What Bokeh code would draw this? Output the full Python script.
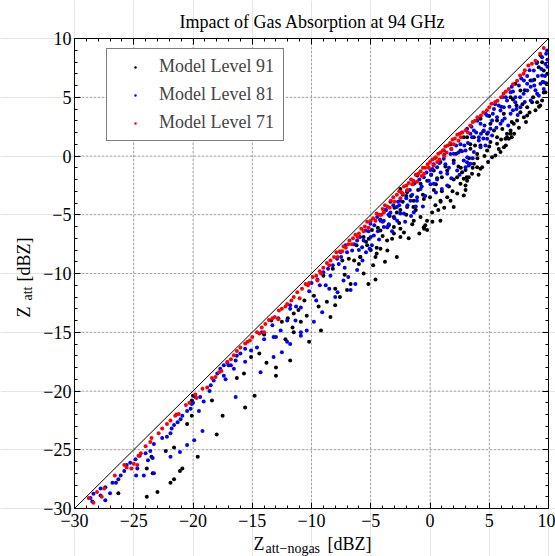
from bokeh.plotting import figure
from bokeh.models import Range1d, FixedTicker, LinearAxis, Label
from bokeh.embed import file_html
from bokeh.resources import INLINE

# ---------------- data ----------------
x_lim = [-30, 10]
y_lim = [-30, 10]
major_ticks = [-30, -25, -20, -15, -10, -5, 0, 5, 10]
minor_ticks = list(range(-30, 11))
tick_labels = {-30: "\u221230", -25: "\u221225", -20: "\u221220", -15: "\u221215",
               -10: "\u221210", -5: "\u22125", 0: "0", 5: "5", 10: "10"}
series_names = ["Model Level 91", "Model Level 81", "Model Level 71"]
series_colors = ["#000000", "#0000ff", "#ff0000"]
title_text = "Impact of Gas Absorption at 94 GHz"

# (Z_att-nogas, Z_att) pairs
level91 = [
    (-23.0, -28.6), (-23.9, -29.0), (-26.3, -28.7), (-21.9, -27.8), (-21.6, -27.5),
    (-21.1, -26.8), (-20.9, -26.6), (-19.6, -25.6), (-18.0, -23.7), (-17.5, -22.1),
    (-15.6, -21.4), (-14.8, -20.4), (-23.4, -27.0), (-23.5, -25.6), (-22.3, -25.1),
    (-21.6, -24.8), (-20.5, -22.8), (-13.0, -18.0), (-11.8, -17.4), (-13.0, -18.7),
    (-10.2, -15.8), (-11.5, -15.0), (-15.7, -18.5), (-16.3, -18.9), (-15.1, -17.1),
    (-14.4, -16.8), (-13.4, -14.0), (-11.5, -13.4), (-11.1, -13.1), (-20.1, -22.1),
    (-20.0, -20.4), (-20.1, -20.8), (-18.4, -20.8), (-23.9, -26.6),
    (-8.4, -13.7), (-9.2, -14.85), (-11.6, -14.6), (-10.9, -14.1), (-8.7, -12.4),
    (-8.0, -12.7), (-8.0, -11.3), (-7.0, -11.4), (-6.7, -10.9), (-5.6, -10.0),
    (-5.2, -10.9), (-4.6, -10.5), (-3.8, -9.0), (-2.8, -8.6), (-3.6, -8.04),
    (-4.5, -7.8), (-5.0, -8.0), (-3.2, -7.05), (-2.5, -6.9), (-2.2, -6.5),
    (-1.5, -5.8), (-0.5, -6.2), (-0.4, -5.9), (-0.8, -5.2), (-0.25, -5.5),
    (0.18, -4.8), (0.9, -3.9), (0.46, -4.2), (-1.4, -4.35), (-2.8, -4.8),
    (-3.05, -6.05), (-4.5, -8.3), (-5.9, -8.6),
    (3.1, -1.8), (2.57, -2.37), (1.45, -3.5), (0.88, -3.8), (1.73, -3.8),
    (0.32, -2.9), (-0.24, -2.1), (-0.8, -2.37), (-1.37, -3.8), (-1.93, -4.35),
    (-2.5, -4.6), (-3.05, -5.2), (-3.6, -6.06), (-3.05, -6.6), (-2.5, -6.2),
    (-1.37, -5.5), (-0.52, -6.06), (-0.24, -6.3), (0.88, -5.5), (2.0, -4.35),
    (2.85, -3.36), (3.0, -2.9), (2.29, -1.8), (1.45, -1.23), (0.88, -0.5),
    (2.0, -0.38), (1.16, 0.47), (2.57, 0.47), (1.73, 1.0), (2.85, 1.6),
    (0.32, -1.23), (-1.09, -1.66), (-2.5, -2.8), (-3.34, -3.9), (-3.9, -4.6),
    (-1.93, -3.08), (-1.37, -2.37), (-0.52, -3.65),
    (-5.17, -7.05), (-4.6, -8.6), (-4.18, -7.9), (-3.62, -7.2), (-5.87, -8.6),
    (-6.85, -8.75), (-4.18, -6.34), (-3.48, -5.9),
    (3.0, -2.5), (3.13, -2.1), (2.85, -1.94), (3.27, -1.8), (3.7, -0.67),
    (4.26, -1.09), (4.4, -0.95), (3.98, -0.95), (3.55, -1.52), (2.71, -1.38),
    (5.24, -0.1), (5.52, 0.04), (6.23, 0.75), (5.95, 0.33), (4.82, 0.47),
    (4.26, 0.9), (6.8, 1.89), (6.5, 1.6), (6.65, 1.46), (5.66, 1.04),
    (3.98, 0.18), (3.41, 0.61),
    (9.32, 8.55), (9.46, 7.98), (9.18, 7.56), (9.6, 7.28), (8.62, 4.58),
    (9.04, 4.58), (9.46, 4.72), (8.2, 4.15), (7.63, 3.73), (7.92, 3.3),
    (7.35, 3.02), (7.07, 2.74), (6.8, 2.17), (6.5, 1.89), (6.9, 1.6),
    (6.37, 1.46), (8.2, 3.45), (9.74, 5.43), (6.23, 3.59), (5.66, 3.02),
    (5.1, 2.74), (4.26, 3.16), (4.82, 1.89), (5.4, 2.17), (5.66, 1.6),
    (3.7, 1.6), (3.13, 1.6), (7.2, 6.14), (7.63, 5.57), (6.8, 5.0),
    (9.04, 7.98), (8.48, 6.43),
    (-9.0, -10.2), (-8.2, -9.6), (-7.4, -8.9), (-6.2, -7.6), (-5.6, -6.9),
    (-4.9, -6.3), (-4.2, -5.4), (-2.0, -3.4), (-1.0, -2.9), (0.1, -1.6),
    (0.6, -1.9), (1.3, -0.9), (2.2, 0.2), (3.4, 1.0), (4.5, 2.1),
    (5.0, 3.4), (6.0, 4.2), (7.0, 4.8), (8.0, 5.6), (8.8, 6.5),
    (9.9, 7.0), (9.6, 5.4), (-14.0, -15.2), (-12.5, -14.1), (-12.0, -13.8),
    (-10.6, -12.3), (-9.8, -11.9),
    (-6.0, -9.2), (-5.4, -7.3), (-4.8, -9.3), (-4.0, -6.8), (-3.4, -5.1),
    (-2.6, -5.7), (-2.0, -5.0), (-1.8, -7.0), (-1.2, -4.6), (-0.9, -6.6),
    (-0.6, -3.3), (0.0, -3.5), (0.2, -5.6), (0.5, -2.4), (0.7, -4.6),
    (1.0, -1.8), (1.2, -4.4), (1.6, -2.6), (1.9, -3.0), (2.3, -3.2),
    (2.4, -0.9), (2.6, -1.0), (3.3, -0.2), (3.6, -1.0), (3.8, 0.9),
    (4.1, -1.6), (4.6, 0.0), (4.9, -0.5), (5.1, 1.2), (5.8, 0.6),
    (6.1, 2.3), (6.4, 0.9), (6.9, 2.9), (7.1, 1.9), (7.5, 2.4),
    (7.8, 4.4), (8.1, 2.9), (8.4, 3.7), (8.7, 5.0), (8.9, 3.9),
    (9.2, 4.2), (9.5, 6.3), (9.8, 6.2), (9.3, 4.3), (7.3, 4.3),
    (6.0, 1.4), (5.0, 0.8), (4.0, -0.2), (3.0, -1.2), (2.0, -2.0),
    (1.0, -3.0), (-1.6, -3.4), (-2.3, -3.9), (-3.0, -4.4), (-4.4, -6.1),
    (-5.3, -7.6), (-6.4, -8.9), (-7.2, -10.1), (-7.6, -12.0), (-9.4, -12.8),
    (-10.4, -13.6), (-12.2, -15.6), (-13.8, -17.6),
]

level81 = [
    (-28.65, -29.1), (-28.5, -29.4), (-28.4, -28.75), (-27.8, -28.3), (-27.4, -28.2),
    (-27.0, -28.7), (-27.4, -29.3), (-26.5, -27.8), (-26.3, -27.5), (-26.1, -27.2),
    (-25.8, -26.8), (-25.6, -26.3), (-25.3, -26.1), (-24.85, -25.8), (-24.7, -26.6),
    (-24.8, -27.2), (-24.15, -27.2), (-23.8, -25.9), (-24.0, -25.3), (-23.6, -25.1),
    (-23.3, -24.5), (-23.4, -25.7), (-21.9, -23.6), (-22.2, -23.9), (-21.8, -23.2),
    (-21.6, -22.9), (-21.3, -22.65), (-21.05, -22.4), (-20.9, -22.1), (-20.5, -21.7),
    (-20.2, -21.5), (-20.1, -21.1), (-19.8, -20.5), (-19.4, -20.5), (-19.1, -20.9),
    (-19.5, -21.7), (-19.2, -23.4), (-19.9, -24.2), (-20.5, -24.6), (-21.1, -25.2),
    (-21.9, -25.6), (-23.3, -27.0), (-18.5, -19.5), (-18.25, -19.1), (-17.95, -18.5),
    (-17.7, -18.1), (-17.4, -17.8), (-17.1, -17.6), (-17.0, -17.8), (-17.4, -18.7),
    (-17.25, -19.0), (-16.55, -18.1), (-16.4, -17.4), (-16.3, -17.0), (-16.0, -16.8),
    (-15.6, -17.5), (-16.4, -20.5), (-15.1, -16.55), (-14.6, -16.3), (-14.3, -18.4),
    (-14.0, -15.6), (-13.2, -15.4), (-13.3, -14.4), (-12.6, -14.85), (-12.5, -16.7),
    (-13.2, -17.1), (-11.8, -16.0), (-11.35, -14.0), (-10.9, -12.9), (-10.4, -14.85),
    (-10.9, -15.3), (-12.05, -14.0), (-11.8, -13.0), (-13.0, -15.4), (-12.06, -15.8),
    (-10.9, -15.0), (-9.1, -13.3), (-9.8, -14.1), (-8.0, -12.0), (-7.8, -11.6),
    (-6.7, -11.4), (-6.3, -10.9), (-6.15, -9.7), (-5.7, -8.9), (-5.0, -6.9),
    (-3.9, -6.05), (-2.77, -5.5), (-2.2, -4.9), (-1.9, -4.2), (-1.1, -3.8),
    (0.04, -2.4), (0.04, -1.2), (1.45, -1.5),
    (2.29, -1.23), (1.73, 0.18), (1.16, -0.24), (0.6, -0.95), (0.1, -1.6),
    (0.32, -2.37), (1.45, -2.5), (-0.8, -2.8), (-1.09, -3.5), (-1.65, -3.8),
    (-1.93, -2.94), (-2.5, -3.8), (-2.8, -4.35), (-3.34, -4.8), (-3.76, -4.64),
    (-3.9, -5.5), (-3.48, -5.8), (-2.5, -4.9), (-1.37, -4.78), (-0.52, -1.8),
    (2.85, -0.38), (2.57, 1.0), (3.0, -0.95), (-6.15, -7.2), (-6.57, -8.04),
    (-5.73, -7.76), (-5.45, -6.34), (-5.03, -5.77), (-4.46, -5.2), (-4.74, -6.77),
    (-4.18, -5.5), (-3.62, -6.06), (-7.13, -7.6), (-7.56, -8.2), (-7.84, -8.75),
    (-10.0, -10.8), (-9.5, -10.5), (-9.0, -9.9), (-8.6, -9.6), (-8.2, -9.3),
    (-7.5, -8.6), (-7.0, -8.2), (-6.4, -7.5), (-5.9, -6.9), (-5.2, -6.4),
    (-4.7, -5.9), (-4.2, -5.0), (-3.7, -4.6), (-3.1, -4.2), (-2.7, -3.9),
    (-2.3, -3.3), (-1.7, -2.9), (-1.3, -2.3), (-0.9, -2.0), (-0.3, -1.4),
    (0.3, -0.7), (0.8, -0.6), (1.2, 0.1), (1.8, 0.6), (2.2, 0.9),
    (-8.8, -11.0), (-9.6, -12.3), (-11.3, -12.8), (-10.2, -11.5), (-8.4, -10.2),
    (-7.2, -9.5), (-6.9, -10.3), (-5.4, -8.2), (-4.9, -7.6), (-4.3, -7.1),
    (-3.2, -6.4), (-2.1, -5.6), (-1.6, -5.1), (-0.6, -4.3), (0.5, -3.1),
    (1.0, -2.8), (1.8, -1.9), (2.5, -1.6),
    (9.88, 8.98), (9.46, 8.4), (9.74, 7.84), (9.46, 6.85), (9.32, 6.14),
    (9.6, 6.28), (9.04, 5.29), (8.62, 6.43), (8.2, 5.57), (8.76, 7.28),
    (7.92, 6.43), (7.5, 6.0), (7.2, 5.0), (6.8, 5.43), (6.5, 4.72),
    (6.23, 4.15), (5.95, 3.87), (5.4, 4.0), (4.82, 3.45), (5.24, 3.02),
    (4.26, 2.74), (3.7, 2.17), (5.1, 2.31), (5.95, 2.74), (6.8, 3.59),
    (7.63, 4.15), (8.5, 4.72), (9.18, 5.15), (4.12, 1.6), (3.41, 1.89),
    (3.13, 2.31), (4.54, 2.17), (5.66, 3.3), (7.2, 4.58), (8.2, 6.14),
    (3.13, -0.53), (3.27, -0.81), (3.0, 0.47), (3.7, 0.33), (4.12, 1.32),
    (4.68, 0.9), (4.82, 1.46), (5.24, 1.74), (3.55, 1.6),
    (3.5, 2.5), (4.0, 3.0), (4.7, 3.6), (5.5, 4.4), (6.1, 5.0),
    (6.9, 5.9), (7.7, 6.6), (8.4, 7.3), (9.0, 7.9), (9.8, 8.7),
    (2.0, 0.2), (2.7, 0.4), (6.3, 3.2), (7.0, 3.9), (8.0, 4.6),
    (8.9, 5.6), (9.7, 6.8), (9.9, 7.6), (6.6, 2.6), (7.4, 3.5),
    (4.26, 0.75), (2.7, 2.0), (3.14, -0.1), (3.4, -0.65), (4.5, 1.5),
    (-9.3, -11.0), (-8.5, -11.3), (-7.7, -9.2), (-7.3, -10.6), (-6.0, -8.0),
    (-5.6, -7.2), (-5.1, -7.9), (-4.4, -6.4), (-4.0, -5.6), (-3.5, -5.0),
    (-3.0, -5.3), (-2.6, -4.2), (-2.0, -3.6), (-1.5, -3.3), (-1.2, -4.3),
    (-0.7, -2.6), (-0.4, -3.4), (-0.1, -2.1), (0.2, -1.1), (0.6, -2.0),
    (0.9, -1.4), (1.3, -0.7), (1.6, -1.0), (2.0, -0.6), (2.4, 0.3),
    (2.9, 0.9), (3.2, 1.1), (3.6, -0.2), (3.9, 2.0), (4.3, 1.9),
    (4.6, 2.6), (4.9, 2.0), (5.3, 3.6), (5.6, 2.4), (5.8, 4.3),
    (6.1, 3.0), (6.4, 5.0), (6.7, 4.2), (7.0, 5.5), (7.3, 4.0),
    (7.6, 5.0), (7.9, 5.3), (8.2, 6.8), (8.5, 5.9), (8.8, 6.0),
    (9.1, 6.8), (9.4, 7.4), (9.6, 5.7), (9.9, 8.2), (-11.8, -12.7),
    (-12.8, -13.8), (-14.2, -15.0), (-15.6, -16.4), (-16.8, -17.8), (-18.6, -20.0),
    (-20.0, -21.0), (-22.6, -24.0), (-24.5, -25.5), (-26.8, -27.8), (-27.8, -28.9),
]

level71 = [
    (-28.8, -29.1), (-28.4, -29.5), (-28.1, -28.6), (-27.5, -28.3), (-27.7, -29.0),
    (-25.8, -26.3), (-25.6, -26.5), (-25.0, -26.2), (-24.7, -26.3), (-24.6, -25.5),
    (-24.4, -25.3), (-25.2, -26.6), (-23.6, -24.35), (-23.5, -24.0), (-22.6, -23.2),
    (-21.9, -22.5), (-21.5, -22.1), (-21.4, -22.0), (-21.2, -21.95), (-20.6, -21.2),
    (-19.8, -20.3), (-19.7, -20.6), (-18.8, -19.7), (-18.4, -18.9), (-17.8, -18.4),
    (-17.6, -18.3), (-17.1, -17.5), (-16.55, -16.95), (-16.3, -16.6), (-16.0, -16.3),
    (-15.6, -15.95), (-15.4, -15.8), (-15.2, -15.7), (-15.0, -15.4), (-14.6, -15.0),
    (-14.4, -15.1), (-14.2, -14.6), (-13.9, -14.3), (-13.6, -13.95), (-13.3, -13.8),
    (-12.75, -13.15), (-12.5, -13.0), (-12.05, -12.6), (-11.5, -12.0), (-11.2, -11.6),
    (-10.8, -11.3), (-10.5, -10.9), (-10.2, -10.8), (-9.9, -10.3), (-9.6, -10.2),
    (-9.3, -9.8), (-9.0, -9.5), (-8.7, -9.1), (-8.4, -8.9), (-8.1, -8.6),
    (-7.9, -8.2), (-7.6, -8.1), (-7.3, -7.7), (-7.1, -7.8), (-6.8, -7.2),
    (-6.5, -7.0), (-6.3, -6.7), (-6.0, -6.6), (-5.8, -6.2), (-5.5, -6.0),
    (-5.3, -5.6), (-5.0, -5.5), (-4.8, -5.3), (-4.5, -4.9), (-4.3, -5.0),
    (-4.0, -4.5), (-3.8, -4.2), (-3.6, -4.3), (-3.3, -3.8), (-3.1, -3.5),
    (-2.8, -3.3), (-2.6, -3.0), (-2.4, -3.1), (-2.2, -2.6), (-2.0, -2.5),
    (-1.8, -2.3), (-1.6, -2.0), (-1.4, -2.1), (-1.2, -1.6), (-1.0, -1.5),
    (-0.8, -1.3), (-0.6, -1.0), (-0.4, -1.0), (-0.2, -0.7), (0.0, -0.5),
    (0.2, -0.3), (0.4, -0.2), (0.5, -0.1), (0.7, 0.2), (0.9, 0.3),
    (1.1, 0.5), (1.3, 0.8), (1.5, 0.9), (1.7, 1.1), (1.9, 1.4),
    (2.1, 1.5), (2.3, 1.8), (2.5, 1.9), (2.7, 2.0), (3.0, 2.2),
    (3.4, 2.6), (3.8, 3.0), (4.3, 3.45), (4.5, 3.7), (5.0, 4.15),
    (5.2, 4.45), (5.7, 4.7), (6.0, 5.0), (6.2, 5.3), (6.65, 5.7),
    (7.35, 6.4), (7.6, 6.85), (7.9, 7.0), (8.3, 7.7), (8.6, 7.85),
    (9.3, 8.7), (9.6, 9.2),
    (-7.8, -8.6), (-6.6, -7.5), (-5.2, -6.1), (-4.1, -5.0), (-3.4, -4.4),
    (-2.5, -3.6), (-1.9, -2.9), (-1.1, -2.2), (-0.5, -1.5), (0.3, -0.8),
    (0.8, -0.3), (1.4, 0.3), (2.0, 1.0), (2.6, 1.6), (-9.5, -10.6),
    (-11.0, -12.1), (-12.8, -13.9), (-14.0, -15.0),
    (-26.6, -27.2), (-24.0, -24.7), (-22.9, -23.6), (-22.2, -22.8), (-20.3, -21.0),
    (-19.2, -19.8), (-18.1, -18.8), (-16.8, -17.3), (-13.1, -13.7), (-12.2, -12.8),
    (-11.7, -12.3), (-10.3, -11.0), (-9.2, -10.0), (-8.5, -9.3), (-7.4, -8.1),
    (-6.9, -7.5), (-6.1, -6.9), (-5.6, -6.4), (-4.6, -5.5), (-3.9, -4.8),
    (-3.0, -3.9), (-2.3, -3.2), (-1.5, -2.4), (-0.7, -1.7), (-0.1, -1.0),
    (0.6, -0.5), (1.2, 0.0), (1.8, 0.6), (2.4, 1.3), (3.2, 2.0),
    (3.6, 2.9), (4.0, 3.3), (4.8, 3.9), (5.5, 4.6), (6.4, 5.5),
    (7.0, 6.1), (8.0, 7.3), (8.9, 8.1),
]

# ---------------- layout (pixels) ----------------
W, H = 555, 556
box_left, box_right, box_top, box_bottom = 74, 548, 38, 508
FONT = "Liberation Serif"

# the frame covers the whole canvas; the axes box is placed inside it
kx = (box_right - box_left) / (x_lim[1] - x_lim[0])
ky = (box_bottom - box_top) / (y_lim[1] - y_lim[0])
xr0 = x_lim[0] - box_left / kx
yr1 = y_lim[1] + box_top / ky

p = figure(width=W, height=H, output_backend="svg", toolbar_location=None,
           x_range=Range1d(xr0, xr0 + W / kx), y_range=Range1d(yr1 - H / ky, yr1),
           min_border=0, min_border_left=0, min_border_right=0,
           min_border_top=0, min_border_bottom=0,
           x_axis_location=None, y_axis_location=None)
p.background_fill_color = "white"
p.border_fill_color = "white"
p.outline_line_color = None

ticker = FixedTicker(ticks=major_ticks, minor_ticks=minor_ticks)


def make_axis(loc, bounds, show_labels, standoff=0):
    ax = LinearAxis(ticker=ticker, fixed_location=loc, bounds=tuple(bounds))
    ax.axis_line_color = "black"
    ax.axis_line_width = 1
    ax.major_tick_in = 6
    ax.major_tick_out = 0
    ax.minor_tick_in = 3
    ax.minor_tick_out = 0
    ax.major_tick_line_color = "black"
    ax.minor_tick_line_color = "black"
    ax.major_label_text_font = FONT
    ax.major_label_text_font_size = "18px"
    ax.major_label_standoff = standoff
    if show_labels:
        ax.major_label_overrides = tick_labels
        ax.major_label_text_color = "black"
    else:
        ax.major_label_text_color = None
    return ax


# dotted grid at the major ticks (inside the axes box only)
inner = [t for t in major_ticks if x_lim[0] < t < x_lim[1]]
p.segment(x0=inner, y0=[y_lim[0]] * len(inner), x1=inner, y1=[y_lim[1]] * len(inner),
          line_color="#000000", line_alpha=0.6, line_dash="1 3", line_width=1)
p.segment(x0=[x_lim[0]] * len(inner), y0=inner, x1=[x_lim[1]] * len(inner), y1=inner,
          line_color="#000000", line_alpha=0.6, line_dash="1 3", line_width=1)

# one-to-one reference line
p.line(x_lim, y_lim, line_color="black", line_width=1)

for pts, name, col in zip([level91, level81, level71], series_names, series_colors):
    xs = [a for a, b in pts]
    ys = [b for a, b in pts]
    p.scatter(xs, ys, size=4, marker="circle", fill_color=col, line_color=None,
              legend_label=name)

p.add_layout(make_axis(y_lim[0], x_lim, True, 5), "below")
p.add_layout(make_axis(x_lim[0], y_lim, True, 3), "left")
p.add_layout(make_axis(y_lim[1], x_lim, False), "above")
p.add_layout(make_axis(x_lim[1], y_lim, False), "right")

lg = p.legend[0]
lg.location = (106, H - 141)
lg.border_line_color = "black"
lg.border_line_width = 1
lg.background_fill_color = "white"
lg.background_fill_alpha = 1
lg.padding = 7
lg.spacing = 7
lg.margin = 0
lg.label_height = 20
lg.glyph_height = 6
lg.glyph_width = 42
lg.label_standoff = 3
lg.label_width = 117
lg.label_text_font = FONT
lg.label_text_font_size = "18px"


# texts (screen units from the canvas' bottom-left corner)
def lab(sx, sy, text, size, align="left", angle=0.0):
    p.add_layout(Label(x=sx, y=sy, x_units="screen", y_units="screen", text=text,
                       angle=angle, text_font=FONT, text_font_size=size,
                       text_align=align, text_baseline="alphabetic",
                       text_color="black"))


lab(312, H - 21, title_text, "18px", "center")
lab(253, H - 543, "Z", "18px")
lab(265, H - 548, "att\u2212nogas", "14px")
lab(327, H - 543, "[dBZ]", "18px")
lab(23, H - 317, "Z", "18px", "left", 1.5707963)
lab(27, H - 300, "att", "14px", "left", 1.5707963)
lab(23, H - 281, "[dBZ]", "18px", "left", 1.5707963)

open("out.html", "w").write(file_html(p, INLINE))
